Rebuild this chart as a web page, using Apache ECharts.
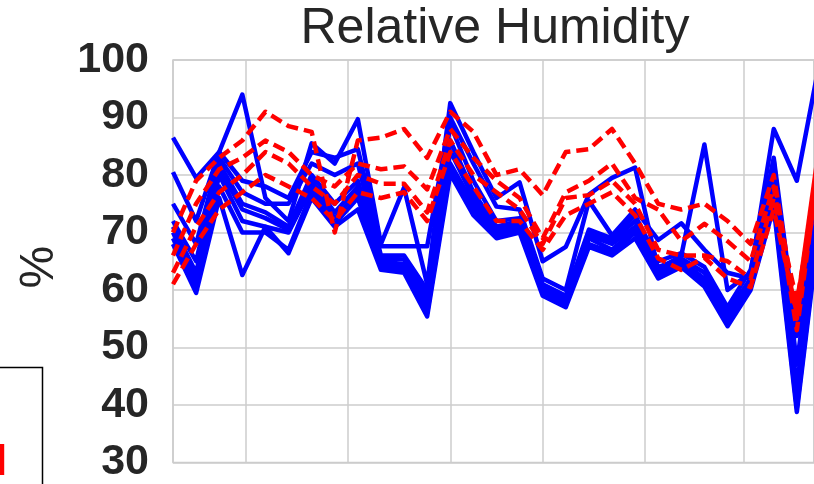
<!DOCTYPE html>
<html><head><meta charset="utf-8">
<script src="https://cdn.jsdelivr.net/npm/echarts@6/dist/echarts.min.js"></script>
<style>html,body{margin:0;padding:0;background:#fff;overflow:hidden}#c{width:814px;height:484px}</style>
</head><body><div id="c"></div>
<script>
// weekly dates
const dates = ['2014-11-09','2014-11-16','2014-11-23','2014-11-30','2014-12-07','2014-12-14','2014-12-21','2014-12-28',
  '2015-01-04','2015-01-11','2015-01-18','2015-01-25','2015-02-01','2015-02-08','2015-02-15','2015-02-22',
  '2015-03-01','2015-03-08','2015-03-15','2015-03-22','2015-03-29','2015-04-05','2015-04-12','2015-04-19',
  '2015-04-26','2015-05-03','2015-05-10','2015-05-17','2015-05-24'];
const yTicks = [30, 40, 50, 60, 70, 80, 90, 100];

// blue solid lines
const blue1 = [86.5,79.5,84,94,76,72,85.5,82,89.7,68,77.8,61,92.5,84,76,78.7,65,67.5,76.6,79.5,81.3,63.5,66,85.3,60,63,88,79,100];
const blue2 = [80.5,72,84,79,78,76,84,83,84.5,67.6,67.6,67.6,90,82,74.5,74,62,60,75.5,69.5,74,68.7,71.6,67,63,62,83,52,80];
const blue3 = [75,68,83,77,75,75,82,80,82,66,66,60,88.8,79,72,72.5,61,59,70.5,69,73,65,66.4,64,57,63.5,82.5,47,78];
const blue4 = [72,65,82,75,73.5,71,80,75,79,65.5,65.3,59,86,77,71,72,60.5,58.5,70,68.5,72,64,65.5,63,56,62,80,43,76];
const blue5 = [71,63,81,74,72.5,70.5,79,73.5,78,65,64.5,58,84.2,76,70.5,71.5,60,58,69.5,68,71,63.5,65,62,55,61.5,78,41,75];
const blue6 = [70,62,80,72,71,70,78,72.5,77,64.5,64,57,82,75,70,71,59.8,57.8,69,67,70.5,63,64.5,61.5,54.5,61,77,40,74];
const blue7 = [69,61,78,70,70,67,77,71.5,76,64,63.5,56,81,74,69.5,70.5,59.5,57.5,68,66.5,70,62.5,64,61,54,60.5,75.5,39.5,73];
const blue8 = [68,59.5,76,62.6,71,66.4,76,71,74,63.5,63,55.4,80.2,73,69,70,59,57,67.5,66,69,62,64,60.6,53.7,60,74.4,38.8,72];

// red dashed lines
const red1 = [70,79,83,86,91,88.5,87.5,70,86,86.5,88,83,91,87.5,80,81,76.5,84,84.5,88,82,75,74,75,72,68,80,55,84];
const red2 = [66,75,81,83,86,84,80,78,82,81,81.5,77.5,88,83,79,76,69,77,79,82,76,74,68.5,71.5,68.5,65,78,53,83];
const red3 = [63,71,77,80,84,82,78,75,80,78.5,78.5,73.5,86,80,77,74,68,76,76.5,79,75,67,66,66,65,62,76,58,82];
const red4 = [61,68,74,77,80,78,76,72,77,76,77,72,84,78,72,72,67,73,75,77,73,65.5,63.5,65.6,62,60.5,74,56,81];
// red solid line (only at the end)
const redSolid = [null,null,null,null,null,null,null,null,null,null,null,null,null,null,null,null,null,null,null,null,null,null,null,null,null,null,null,57,86];

const blues = [blue1,blue2,blue3,blue4,blue5,blue6,blue7,blue8];
const reds = [red1,red2,red3,red4];
const pair = arr => dates.map((d, i) => [d, arr[i]]);

const series = [];
blues.forEach((b, i) => series.push({
  name: 'blue' + (i + 1), type: 'line', data: pair(b), symbol: 'none', z: 2,
  lineStyle: { color: '#0000ff', width: 4.5, join: 'round' }, itemStyle: { color: '#0000ff' }
}));
reds.forEach((r, i) => series.push({
  name: 'red' + (i + 1), type: 'line', data: pair(r), symbol: 'none', z: 3,
  lineStyle: { color: '#ff0000', width: 4.5, type: [12, 6], cap: 'butt', join: 'round' }, itemStyle: { color: '#ff0000' }
}));
series.push({
  name: 'redSolid', type: 'line', data: pair(redSolid), symbol: 'none', z: 4,
  lineStyle: { color: '#ff0000', width: 4.5, join: 'round' }, itemStyle: { color: '#ff0000' }
});

const chart = echarts.init(document.getElementById('c'), null, { renderer: 'canvas' });
chart.setOption({
  animation: false,
  backgroundColor: '#ffffff',
  title: {
    text: 'Relative Humidity', left: 495, top: 4, textAlign: 'center', padding: 0,
    textStyle: { fontFamily: '"Liberation Sans", Arial, sans-serif', fontSize: 50, fontWeight: 'normal', color: '#262626' }
  },
  grid: { left: 173, right: -2, top: 60, bottom: 18, show: true, borderColor: '#cccccc', borderWidth: 1.5, backgroundColor: '#ffffff' },
  xAxis: {
    type: 'time', min: dates[0], max: '2015-05-22T04:48:00', splitNumber: 6,
    minInterval: 28 * 86400000, maxInterval: 31 * 86400000,
    axisLine: { show: false }, axisTick: { show: false }, axisLabel: { show: false },
    splitLine: { show: true, lineStyle: { color: '#cccccc', width: 1.5 } }
  },
  yAxis: {
    type: 'value', min: yTicks[0], max: yTicks[yTicks.length - 1], interval: 10,
    name: '%', nameLocation: 'middle', nameRotate: 90, nameGap: 109,
    nameTextStyle: { fontFamily: '"Liberation Sans", Arial, sans-serif', fontSize: 48, color: '#262626', padding: [0, 12, 0, 0] },
    axisLine: { show: false }, axisTick: { show: false },
    axisLabel: { margin: 24, padding: [0, 0, 7, 0], fontFamily: '"Liberation Sans", Arial, sans-serif', fontSize: 43, fontWeight: 'bold', color: '#262626' },
    splitLine: { show: true, lineStyle: { color: '#cccccc', width: 1.5 } }
  },
  graphic: [
    { type: 'rect', z: 100, shape: { x: -10, y: 367.5, width: 52.5, height: 140 }, style: { fill: '#ffffff', stroke: '#000000', lineWidth: 1.5 } },
    { type: 'text', z: 101, x: -4.5, y: 463, style: { text: 'l', fill: '#ff0000', font: 'bold 42px "Liberation Sans", Arial, sans-serif', verticalAlign: 'middle', align: 'left' } }
  ],
  series: series
});
</script></body></html>
